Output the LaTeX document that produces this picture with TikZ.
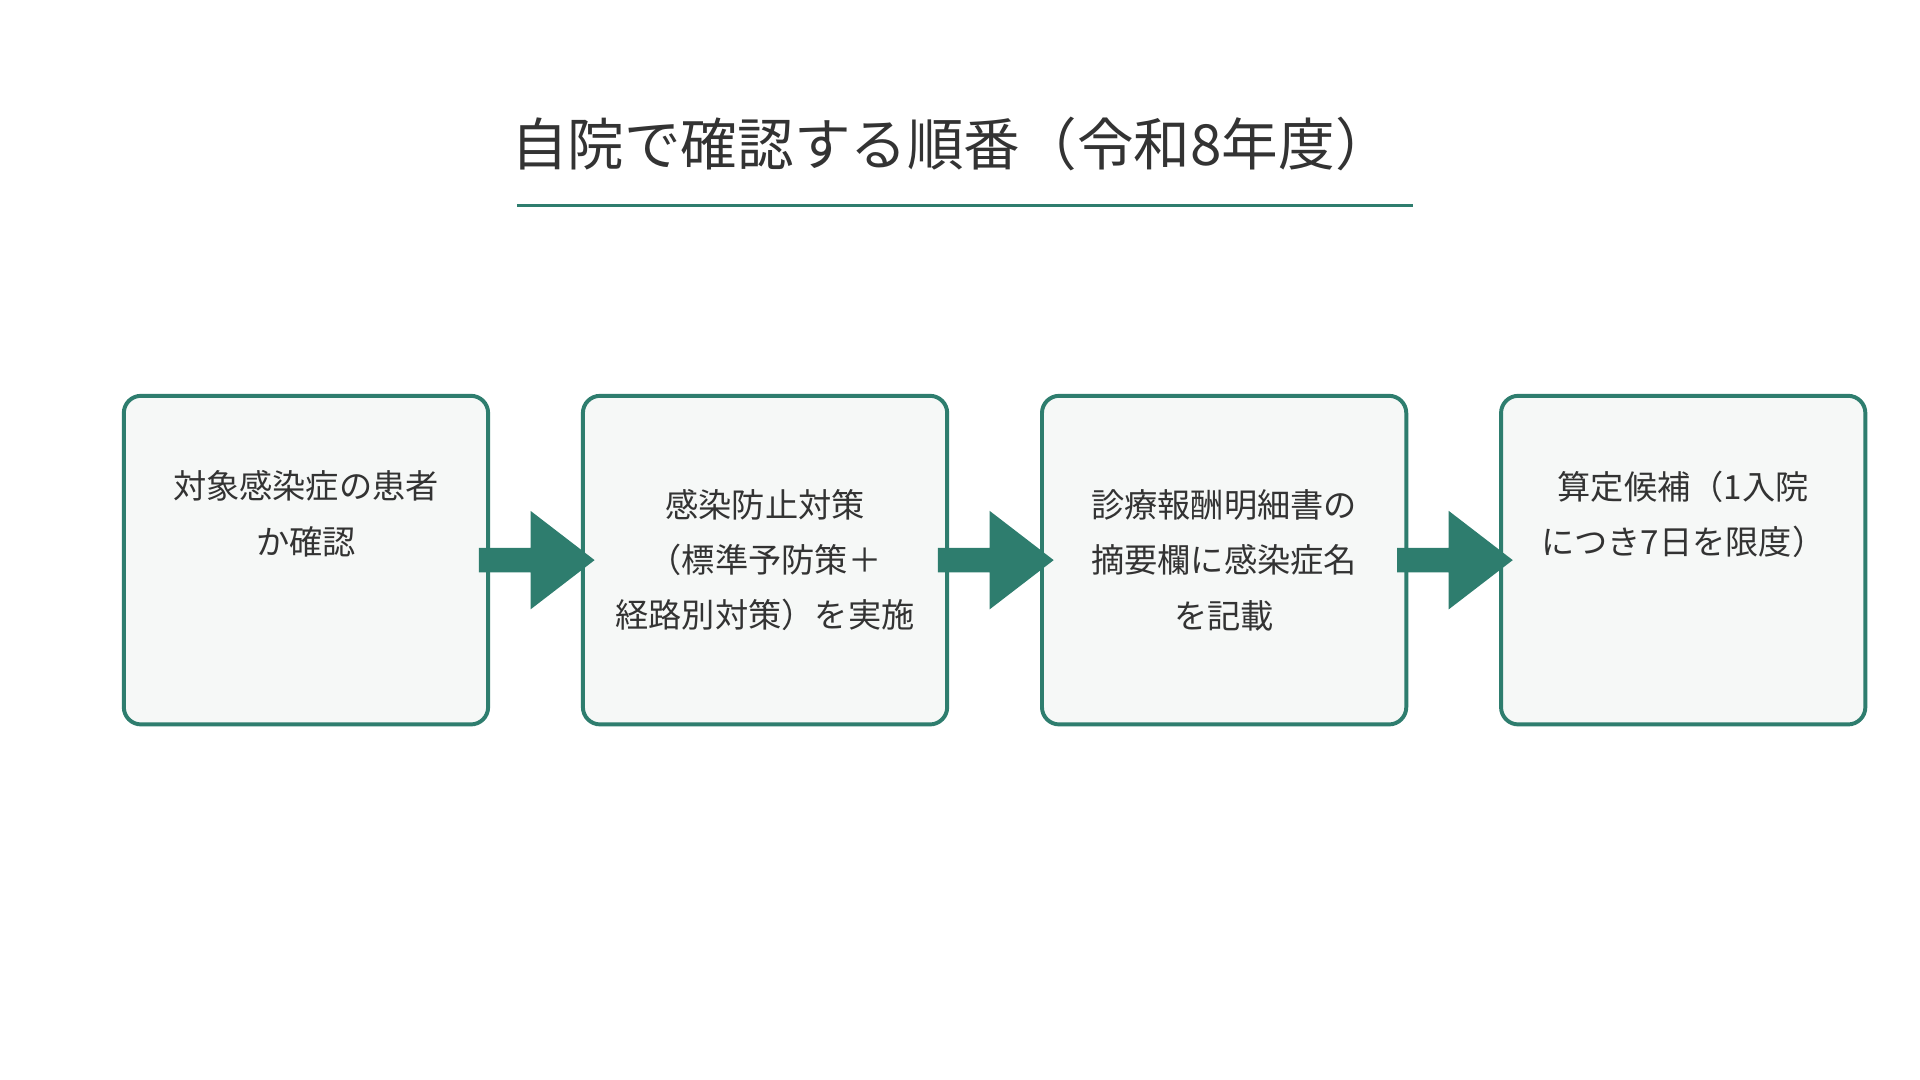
\documentclass[tikz,border=0pt]{standalone}
\usepackage{fontspec}
\setmainfont{Noto Sans CJK JP}
\definecolor{teal}{HTML}{2E7D6E}
\definecolor{boxfill}{HTML}{F6F8F7}
\definecolor{txt}{HTML}{333333}
\begin{document}
\begin{tikzpicture}[x=0.5pt,y=-0.5pt,
  box/.style={draw=teal,line width=1.6pt,fill=boxfill,rounded corners=7pt,minimum width=148pt,minimum height=133.5pt,inner sep=0pt,text=txt,font=\fontsize{13.5}{22.5}\selectfont,align=center,anchor=north west},
  arr/.style={fill=teal,draw=none}]
\useasboundingbox (0,0) rectangle (1560,877.5);
\node[font=\fontsize{23}{28}\selectfont,text=txt] (title) at (773,117) {自院で確認する順番（令和8年度）};
\coordinate (ul1) at (420,167); \coordinate (ul2) at (1148,167);
\draw[teal,line width=1.5pt] (ul1) -- (ul2);
\node[box] (b1) at (99,320) {対象感染症の患者\\か確認\\[1.2em]};
\node[box] (b2) at (472,320) {感染防止対策\\（標準予防策＋\\経路別対策）を実施};
\node[box] (b3) at (845,320) {診療報酬明細書の\\摘要欄に感染症名\\を記載};
\node[box] (b4) at (1218,320) {算定候補（1入院\\につき7日を限度）\\[1.2em]};
\foreach \a/\b in {b1/b2,b2/b3,b3/b4}{
  \path (\a.east) -- (\b.west) coordinate[pos=0.5] (m\a);
  \fill[arr] ([xshift=-23,yshift=-5]m\a) -- ([xshift=-2,yshift=-5]m\a) -- ([xshift=-2,yshift=-20]m\a) -- ([xshift=24]m\a) -- ([xshift=-2,yshift=20]m\a) -- ([xshift=-2,yshift=5]m\a) -- ([xshift=-23,yshift=5]m\a) -- cycle;
}
\end{tikzpicture}
\end{document}
